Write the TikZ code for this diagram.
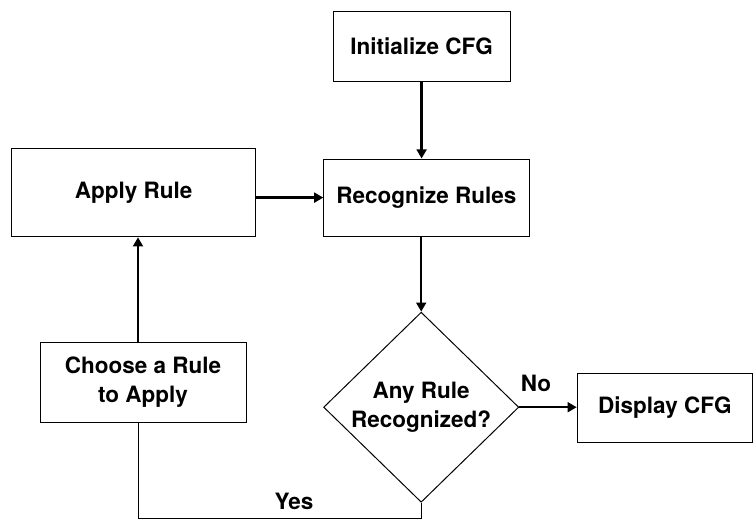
\documentclass[tikz,border=0pt]{standalone}
\usepackage{fontspec}
\setmainfont{TeX Gyre Heros}
\usetikzlibrary{shapes.geometric,arrows.meta}

\begin{document}
\begin{tikzpicture}[
	caixa/.style={draw, line width=0.7pt, inner sep=0pt, align=center},
	losango/.style={draw, diamond, line width=0.7pt, inner sep=0pt, align=center},
	seta/.style={line width=1.7pt, -{Triangle[length=6.5pt,width=7pt]}},
	linha/.style={line width=0.7pt},
	every node/.style={font=\fontsize{16}{20.5}\selectfont\bfseries}
	]
		\useasboundingbox (0,0) rectangle (18.825,-12.975);
		\node[caixa, minimum width=4.43cm, minimum height=1.73cm] (init) at (10.54,-1.16) {Initialize CFG};
		\node[caixa, minimum width=5.13cm, minimum height=1.93cm] (recog) at (10.66,-4.94) {Recognize Rules};
		\node[caixa, minimum width=6.1cm, minimum height=2.22cm] (apply) at (3.34,-4.81) {Apply Rule};
		\node[caixa, minimum width=5.15cm, minimum height=1.98cm] (choose) at (3.575,-9.56) {Choose a Rule\\to Apply};
		\node[losango, minimum width=4.88cm, minimum height=4.6cm] (decision) at (10.53,-10.18) {Any Rule\\Recognized?};
		\node[caixa, minimum width=4.38cm, minimum height=1.73cm] (display) at (16.62,-10.19) {Display CFG};
		\node (nolabel) at (13.4,-9.59) {No};
		\node (yeslabel) at (7.35,-12.53) {Yes};
		\coordinate (canto) at (3.45,-12.95);
		\draw[seta] (init.south) -- (init.south |- recog.north);
		\draw[seta] (decision.north |- recog.south) -- (decision.north);
		\draw[seta] (recog.west -| apply.east) -- (recog.west);
		\draw[seta] (decision.east) -- (decision.east -| display.west);
		\draw[linha] (decision.south) |- (canto) -- (canto |- choose.south);
		\draw[seta] (canto |- choose.north) -- (canto |- apply.south);
\end{tikzpicture}
\end{document}
